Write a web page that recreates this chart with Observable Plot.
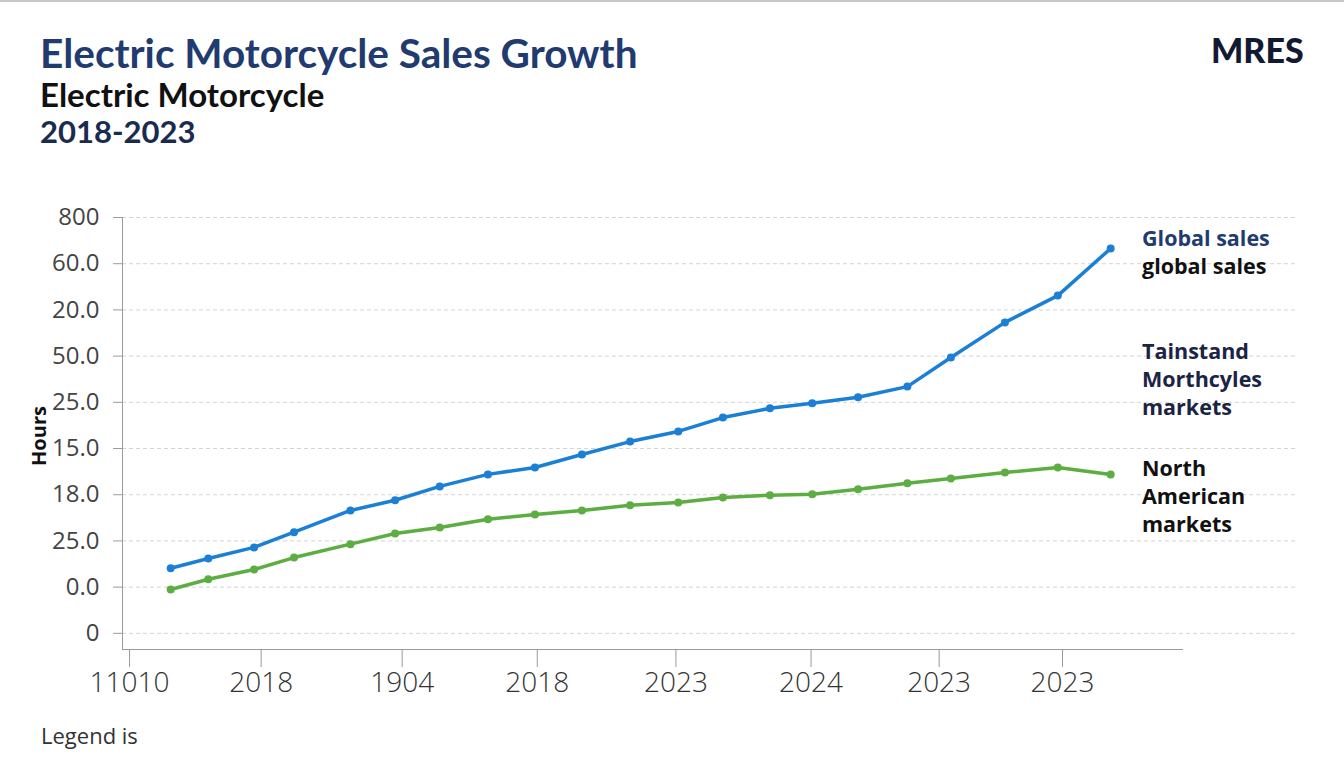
<!DOCTYPE html>
<html>
<head>
<meta charset="utf-8">
<script src="https://cdn.jsdelivr.net/npm/d3@7"></script>
<script src="https://cdn.jsdelivr.net/npm/@observablehq/plot@0.6"></script>
<style>
  html, body { margin: 0; padding: 0; background: #fff; }
  #page { position: relative; width: 1344px; height: 768px; overflow: hidden; background: #fff; border-top: 2px solid #c8c8c8; box-sizing: border-box; }
  .abs { position: absolute; white-space: nowrap; }
  #title { left: 40px; top: 26px; font: 700 40.5px Lato, sans-serif; color: #1f3b70; }
  #sub1 { left: 40px; top: 72px; font: 700 33px Lato, sans-serif; color: #111; }
  #sub2 { left: 40px; top: 110px; font: 700 31px Lato, sans-serif; color: #1a2b50; }
  #brand { left: 1211px; top: 27px; font: 900 34px Lato, sans-serif; color: #121a33; }
  #chart { position: absolute; left: 0; top: 190px; }
  #ylabel { left: 38px; top: 434px; transform: translate(-50%, -50%) rotate(-90deg); font: 700 20px "Open Sans", sans-serif; color: #111; }
  .side { left: 1142px; font: 700 21.5px "Open Sans", sans-serif; line-height: 28px; }
  #caption { left: 41px; top: 718px; font: 400 22px "Open Sans", sans-serif; color: #333; }
</style>
</head>
<body>
<div id="page">
  <div class="abs" id="title">Electric Motorcycle Sales Growth</div>
  <div class="abs" id="sub1">Electric Motorcycle</div>
  <div class="abs" id="sub2">2018-2023</div>
  <div class="abs" id="brand">MRES</div>
  <div id="chart"></div>
  <div class="abs" id="ylabel">Hours</div>
  <div class="abs side" style="top:222px;"><span style="color:#1f3b70">Global sales</span><br><span style="color:#111">global sales</span></div>
  <div class="abs side" style="top:335px;color:#1a2444">Tainstand<br>Morthcyles<br>markets</div>
  <div class="abs side" style="top:452px;color:#111">North<br>American<br>markets</div>
  <div class="abs" id="caption">Legend is</div>
</div>
<script>
// x positions of the observations (abstract period units)
const periods = [4.1, 7.3, 11.2, 14.6, 19.4, 23.2, 27.0, 31.1, 35.1, 39.1, 43.2, 47.3, 51.1, 55.1, 58.7, 62.6, 66.8, 70.5, 75.1, 79.6, 84.1];
// Global sales series
const globalSales = [1.41, 1.62, 1.86, 2.19, 2.66, 2.88, 3.18, 3.44, 3.59, 3.87, 4.15, 4.37, 4.67, 4.87, 4.98, 5.11, 5.34, 5.97, 6.73, 7.31, 8.33];
// North American markets series
const northAmerican = [0.95, 1.17, 1.38, 1.64, 1.93, 2.16, 2.29, 2.47, 2.57, 2.66, 2.77, 2.83, 2.94, 2.99, 3.01, 3.12, 3.25, 3.35, 3.48, 3.59, 3.44];

// Axis ticks and labels
const yTicks = [0, 1, 2, 3, 4, 5, 6, 7, 8, 9];
const yTickLabels = ["0", "0.0", "25.0", "18.0", "15.0", "25.0", "50.0", "20.0", "60.0", "800"];
const xTicks = [0.6, 11.8, 23.8, 35.3, 47.1, 58.6, 69.5, 80.0];
const xTickLabels = ["11010", "2018", "1904", "2018", "2023", "2024", "2023", "2023"];
const xDomain = [0, 100];
const yDomain = [-0.35, 9];
const xAxisEnd = 90.3;

const rows = [];
periods.forEach((p, i) => {
  rows.push({x: p, y: globalSales[i], s: "Global sales"});
  rows.push({x: p, y: northAmerican[i], s: "North American markets"});
});
const blue = "#1b7fd6", green = "#5cad42";

const chart = Plot.plot({
  width: 1344,
  height: 520,
  marginLeft: 122,
  marginRight: 47,
  marginTop: 25,
  marginBottom: 63,
  style: {fontFamily: "'Open Sans', sans-serif", background: "transparent"},
  x: {domain: xDomain},
  y: {domain: yDomain},
  color: {domain: ["Global sales", "North American markets"], range: [blue, green]},
  marks: [
    Plot.gridY(yTicks, {stroke: "#d4d4d4", strokeOpacity: 1, strokeDasharray: "4,3"}),
    Plot.ruleX([xDomain[0]], {y1: yDomain[0], y2: yDomain[1], stroke: "#9a9a9a"}),
    Plot.ruleY([yDomain[0]], {x1: xDomain[0], x2: xAxisEnd, stroke: "#9a9a9a"}),
    Plot.axisY(yTicks, {
      tickFormat: d => yTickLabels[yTicks.indexOf(d)],
      tickSize: 9, tickPadding: 14, stroke: "#9a9a9a", fill: "#444",
      fontSize: 24, label: null
    }),
    Plot.axisX(xTicks, {
      tickFormat: d => xTickLabels[xTicks.indexOf(d)],
      tickSize: 18, tickPadding: 5, stroke: "#9a9a9a", fill: "#333",
      fontSize: 28, fontWeight: 300, label: null
    }),
    Plot.line(rows, {x: "x", y: "y", z: "s", stroke: "s", strokeWidth: 3.5}),
    Plot.dot(rows, {x: "x", y: "y", fill: "s", r: 4})
  ]
});
document.getElementById("chart").appendChild(chart);
</script>
</body>
</html>
